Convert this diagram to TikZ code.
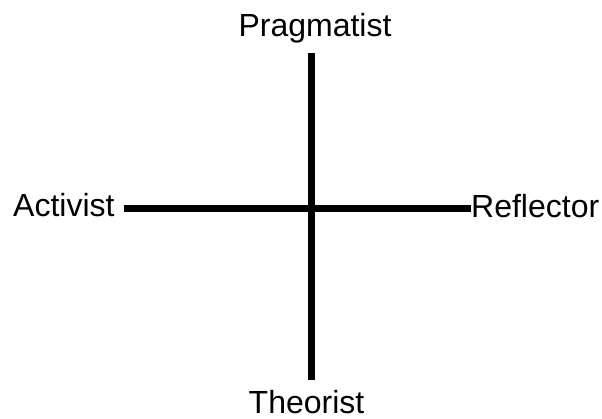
\documentclass[tikz,border=0pt]{standalone}
\usepackage{fontspec}
\setmainfont{Liberation Sans}
\usepackage{tikz}
\usetikzlibrary{positioning}

\tikzset{
    axisline/.style={line width=7pt, black},
    stylelabel/.style={inner sep=0pt, font=\fontsize{32}{36}\selectfont}
}

\begin{document}
\begin{tikzpicture}[x=1pt, y=1pt]
    \useasboundingbox (0, 0) rectangle (602, 418);

    % Learning style labels
    \node[stylelabel, anchor=base] (prag) at (315, 381) {Pragmatist};
    \node[stylelabel, anchor=base] (theo) at (306.5, 5) {Theorist};
    \node[stylelabel, anchor=base west] (act) at (13, 201) {Activist};
    \node[stylelabel, anchor=base west] (refl) at (471, 200) {Reflector};

    % Axis ends
    \coordinate (axtop) at (311.5, 365);
    \coordinate (axbot) at (311.5, 38);
    \coordinate (axleft) at (124, 209.5);
    \coordinate (axright) at (refl.west |- axleft);

    % Axes
    \draw[axisline] (axleft) -- (axright);
    \draw[axisline] (axtop) -- (axbot);
\end{tikzpicture}
\end{document}
